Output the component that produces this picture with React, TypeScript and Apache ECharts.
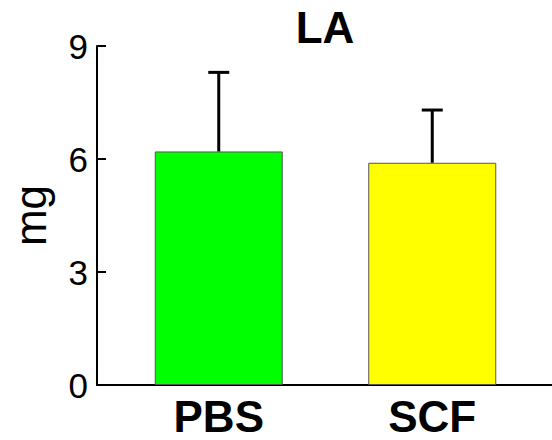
import React, { useEffect, useRef } from "react";
import * as echarts from "echarts";

const categories = ["PBS", "SCF"];
const means = [6.2, 5.9];
const upperErrors = [2.1, 1.4];
const barColors = ["#00ff00", "#ffff00"];
const yMin = 0;
const yMax = 9;
const yInterval = 3;
const titleText = "LA";
const yName = "mg";

const FONT = "'Liberation Sans', Arial, Helvetica, sans-serif";

export default function App() {
  const ref = useRef<HTMLDivElement>(null);
  useEffect(() => {
    if (!ref.current) return;
    const chart = echarts.init(ref.current, null, { renderer: "svg" });
    const errData = categories.map((c, i) => [i, means[i], means[i] + upperErrors[i]]);
    chart.setOption({
      animation: false,
      backgroundColor: "#ffffff",
      title: {
        text: titleText,
        left: 325,
        top: 5,
        padding: 0,
        textAlign: "center",
        textStyle: { fontFamily: FONT, fontSize: 44, fontWeight: "bold", color: "#000" },
      },
      grid: [
        { left: 90, right: 0, top: 46, bottom: 55 },
        { left: 112, width: 427, top: 46, bottom: 55 },
      ],
      xAxis: [
        {
          type: "value",
          gridIndex: 0,
          min: 0,
          max: 1,
          axisLine: { show: true, onZero: false, lineStyle: { color: "#000", width: 2 } },
          axisTick: { show: false },
          axisLabel: { show: false },
          splitLine: { show: false },
        },
        {
          type: "category",
          gridIndex: 1,
          data: categories,
          axisLine: { show: false },
          axisTick: { show: false },
          axisLabel: {
            margin: 9,
            fontFamily: FONT,
            fontSize: 44,
            fontWeight: "bold",
            color: "#000",
          },
        },
      ],
      yAxis: [
        {
          type: "value",
          gridIndex: 0,
          min: yMin,
          max: yMax,
          interval: yInterval,
          name: yName,
          nameLocation: "middle",
          nameGap: 45,
          nameTextStyle: { fontFamily: FONT, fontSize: 44, color: "#000" },
          axisLine: { show: true, lineStyle: { color: "#000", width: 2 } },
          axisTick: { show: true, inside: true, length: 9, lineStyle: { color: "#000", width: 2 } },
          axisLabel: {
            margin: 9,
            fontFamily: FONT,
            fontSize: 35,
            color: "#000",
          },
          splitLine: { show: false },
        },
        {
          type: "value",
          gridIndex: 1,
          min: yMin,
          max: yMax,
          interval: yInterval,
          show: false,
          splitLine: { show: false },
        },
      ],
      series: [
        {
          type: "bar",
          xAxisIndex: 1,
          yAxisIndex: 1,
          barWidth: 128,
          data: means.map((v, i) => ({
            value: v,
            itemStyle: { color: barColors[i], borderColor: "#555", borderWidth: 1 },
          })),
          z: 2,
        },
        {
          type: "custom",
          xAxisIndex: 1,
          yAxisIndex: 1,
          z: 3,
          data: errData,
          renderItem: (params: any, api: any) => {
            const x = api.value(0);
            const base = api.coord([x, api.value(1)]);
            const top = api.coord([x, api.value(2)]);
            const half = 10.5;
            const style = { stroke: "#000", lineWidth: 3, fill: null };
            return {
              type: "group",
              children: [
                { type: "line", shape: { x1: base[0], y1: base[1], x2: top[0], y2: top[1] }, style },
                { type: "line", shape: { x1: top[0] - half, y1: top[1], x2: top[0] + half, y2: top[1] }, style },
              ],
            };
          },
        },
      ],
    });
    return () => chart.dispose();
  }, []);
  return <div ref={ref} style={{ width: 552, height: 440, position: "absolute", left: 0, top: 0 }} />;
}
